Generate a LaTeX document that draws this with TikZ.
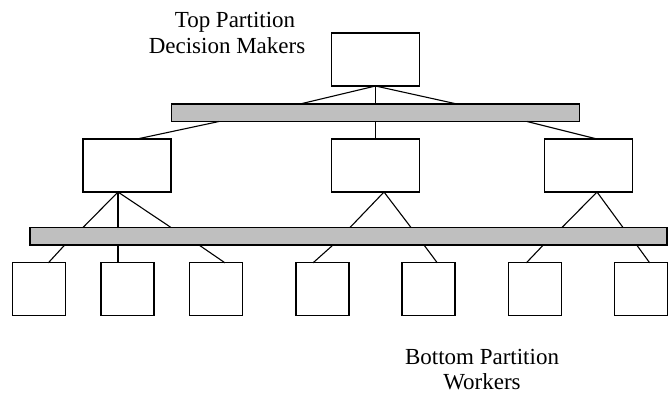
\documentclass[tikz,border=0pt]{standalone}
\usepackage{fontspec}
\setmainfont{Liberation Serif}
\begin{document}
\begin{tikzpicture}[x=1pt,y=-1pt,
  box/.style={draw=black,fill=white,line width=1.1pt,inner sep=0pt,outer sep=0pt,minimum width=88pt,minimum height=53pt},
  sq/.style={draw=black,fill=white,line width=1.1pt,inner sep=0pt,outer sep=0pt,minimum width=53pt,minimum height=53pt},
  bus/.style={draw=black,fill=gray!50!white,line width=1.1pt,inner sep=0pt,outer sep=0pt,minimum height=17.5pt},
  lbl/.style={font=\fontsize{23}{26}\selectfont,inner sep=0pt,anchor=base},
  link/.style={line width=1.1pt}]
\useasboundingbox (0,0) rectangle (668,394);
% boxes
\node[box] (tb) at (375.5,59.5) {};
\node[bus,minimum width=408pt] (bar1) at (375.5,112.75) {};
\node[box] (m1) at (127,165.5) {};
\node[box] (m2) at (375.5,165.5) {};
\node[box] (m3) at (588.5,165.5) {};
\node[bus,minimum width=637pt] (bar2) at (348.5,236.25) {};
\node[sq] (b1) at (39,289.35) {};
\node[sq] (b2) at (127.5,289.35) {};
\node[sq] (b3) at (216.2,289.35) {};
\node[sq] (b4) at (322.5,289.35) {};
\node[sq] (b5) at (428.5,289.35) {};
\node[sq] (b6) at (534.7,289.35) {};
\node[sq] (b7) at (641.3,289.35) {};
% top box to bar1
\draw[link] (tb.south) -- ([xshift=-75.5pt]bar1.north);
\draw[link] (tb.south) -- (tb.south |- bar1.north);
\draw[link] (tb.south) -- ([xshift=81.5pt]bar1.north);
% bar1 to middle boxes
\draw[link] ([xshift=-156.5pt]bar1.south) -- ([xshift=10pt]m1.north);
\draw[link] (m2.north) -- (m2.north |- bar1.south);
\draw[link] ([xshift=151.5pt]bar1.south) -- ([xshift=8.5pt]m3.north);
% middle boxes to bar2
\draw[link] ([xshift=-9pt]m1.south) -- ([xshift=-265.5pt]bar2.north);
\draw[link] ([xshift=-9pt]m1.south) -- ([xshift=-230.5pt]bar2.north);
\draw[link] ([xshift=-9pt]m1.south) -- ([xshift=-177.5pt]bar2.north);
\draw[link] ([xshift=8.5pt]m2.south) -- ([xshift=1.5pt]bar2.north);
\draw[link] ([xshift=8.5pt]m2.south) -- ([xshift=62.5pt]bar2.north);
\draw[link] ([xshift=8.5pt]m3.south) -- ([xshift=213.5pt]bar2.north);
\draw[link] ([xshift=8.5pt]m3.south) -- ([xshift=274.5pt]bar2.north);
% bar2 to bottom boxes
\draw[link] ([xshift=-283.8pt]bar2.south) -- ([xshift=9.3pt]b1.north);
\draw[link] ([xshift=-230.5pt]bar2.south) -- ([xshift=-9.5pt]b2.north);
\draw[link] ([xshift=-149.5pt]bar2.south) -- ([xshift=8.8pt]b3.north);
\draw[link] ([xshift=-15.5pt]bar2.south) -- ([xshift=-9.5pt]b4.north);
\draw[link] ([xshift=75.5pt]bar2.south) -- ([xshift=8.8pt]b5.north);
\draw[link] ([xshift=194.8pt]bar2.south) -- ([xshift=-8.4pt]b6.north);
\draw[link] ([xshift=288.2pt]bar2.south) -- ([xshift=8.4pt]b7.north);
% labels
\node[lbl] (t1) at (235,27) {Top Partition};
\node[lbl] (t2) at (227,53) {Decision Makers};
\node[lbl] (t3) at (482,364) {Bottom Partition};
\node[lbl] (t4) at (482,389) {Workers};
\end{tikzpicture}
\end{document}
